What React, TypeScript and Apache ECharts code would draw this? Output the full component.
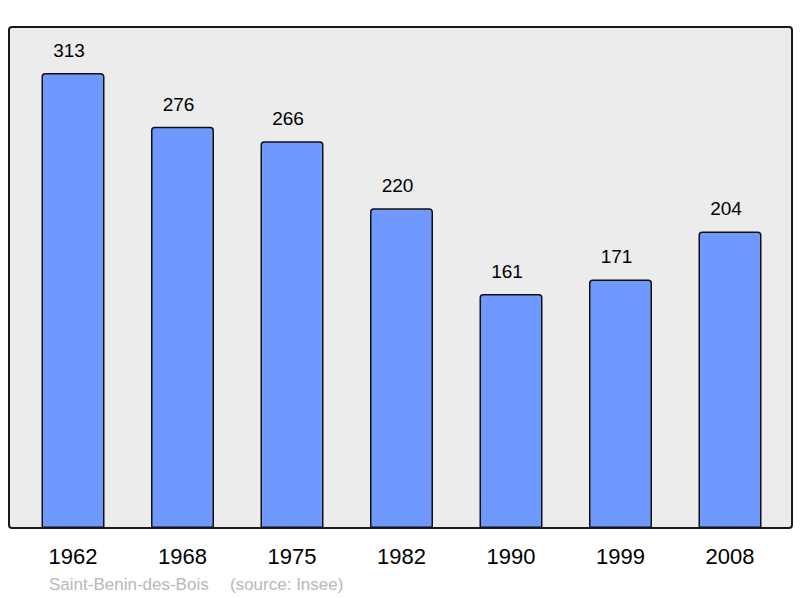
import React, { useEffect, useRef } from "react";
import * as echarts from "echarts";

const years = ["1962", "1968", "1975", "1982", "1990", "1999", "2008"];
const population = [313, 276, 266, 220, 161, 171, 204];
const placeName = "Saint-Benin-des-Bois";
const sourceText = "(source: Insee)";

export default function App() {
  const ref = useRef<HTMLDivElement>(null);
  useEffect(() => {
    if (!ref.current) return;
    const chart = echarts.init(ref.current, null, { renderer: "svg" });
    chart.setOption({
      animation: false,
      textStyle: { fontFamily: "Liberation Sans, Arial, sans-serif" },
      graphic: [
        {
          type: "rect",
          z: 0,
          shape: { x: 9, y: 27, width: 783, height: 501, r: 3 },
          style: { fill: "#ececec", stroke: "#1a1a1a", lineWidth: 2 },
        },
        {
          type: "text",
          x: 49,
          y: 584,
          style: {
            text: placeName,
            fill: "#b8b8b8",
            font: "17px 'Liberation Sans', Arial, sans-serif",
            verticalAlign: "middle",
          },
        },
        {
          type: "text",
          x: 230,
          y: 584,
          style: {
            text: sourceText,
            fill: "#b8b8b8",
            font: "17px 'Liberation Sans', Arial, sans-serif",
            verticalAlign: "middle",
          },
        },
      ],
      grid: { left: 18.25, right: 15.25, top: 27, bottom: 70 },
      xAxis: {
        type: "category",
        data: years,
        axisLine: { show: false },
        axisTick: { show: false },
        axisLabel: { fontSize: 22, color: "#000", margin: 17 },
      },
      yAxis: {
        type: "value",
        min: 0,
        max: 344.6,
        show: false,
        splitLine: { show: false },
      },
      series: [
        {
          type: "bar",
          data: population,
          barWidth: 63,
          z: 3,
          itemStyle: {
            color: "#7099ff",
            borderColor: "#111",
            borderWidth: 1.5,
            borderRadius: [3, 3, 0, 0],
          },
          label: {
            show: true,
            position: "top",
            distance: 13,
            offset: [-4, 0],
            fontSize: 19,
            color: "#000",
          },
        },
      ],
    });
    return () => chart.dispose();
  }, []);
  return <div ref={ref} style={{ width: 800, height: 598, position: "absolute", left: 0, top: 0 }} />;
}
